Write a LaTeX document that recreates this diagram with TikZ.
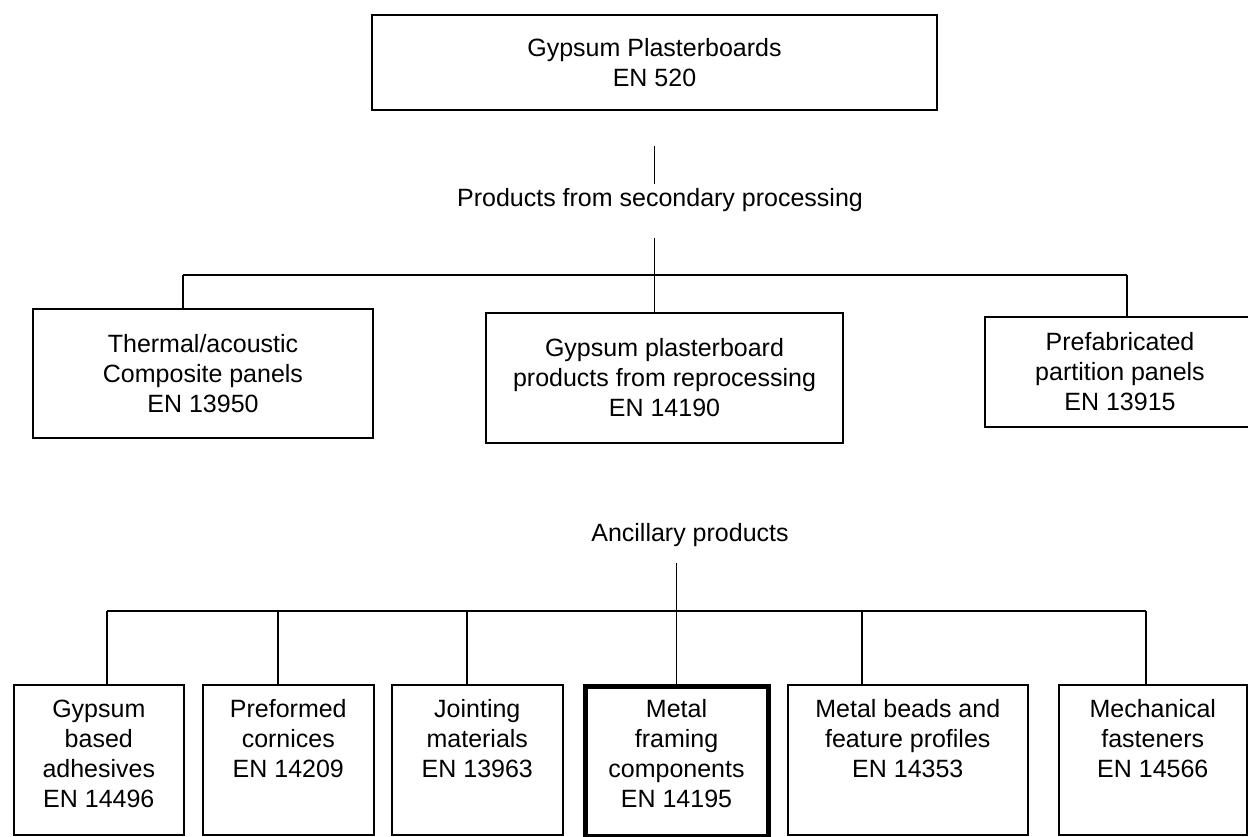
\documentclass[tikz,border=0pt]{standalone}
\usepackage{fontspec}
\setmainfont{Liberation Sans}
\usetikzlibrary{calc}

\begin{document}
\begin{tikzpicture}[x = 0.5pt, y = -0.5pt, line width = 0.8pt]
\tikzstyle{txt} = [font = \fontsize{12.5pt}{15pt}\selectfont, align = center]
\tikzstyle{panel} = [txt, draw, inner sep = 0pt]
\tikzstyle{lowbox} = [draw, anchor = north west, minimum height = 75pt, inner sep = 0pt]
\tikzset{lowtext/.style={txt, anchor = north, inner sep = 0pt, yshift = -7.5pt}}
\useasboundingbox (0,0) rectangle (1248,836);

\node [panel, minimum width = 282.5pt, minimum height = 47.5pt] (plaster) at (654.5,62.5) {Gypsum Plasterboards\\EN 520};
\node [txt, inner sep = 2pt] (second) at (660,200) {Products from secondary processing};
\node [panel, minimum width = 170pt, minimum height = 64.5pt] (thermal) at (203,373.5) {Thermal/acoustic\\Composite panels\\EN 13950};
\node [panel, minimum width = 178.5pt, minimum height = 65pt] (reproc) at (664.5,378) {Gypsum plasterboard\\products from reprocessing\\EN 14190};
\node [panel, minimum width = 135pt, minimum height = 55pt] (prefab) at (1120,372) {Prefabricated\\partition panels\\EN 13915};

\coordinate (busL) at (183,275);
\coordinate (busR) at (1127,275);
\draw ($(plaster.south)+(0,35)$) -- (plaster.south |- second.north);
\draw ($(plaster.south |- second.south)+(0,22)$) -- (plaster.south |- reproc.north);
\draw (busL) -- (busR);
\draw (busL) -- (busL |- thermal.north);
\draw (busR) -- (busR |- prefab.north);

% ancillary products
\node [txt, inner sep = 2pt] (ancil) at (690,535) {Ancillary products};
\node [lowbox, minimum width = 85pt] (adhes) at (13,684) {};
\node [lowbox, minimum width = 85.5pt] (cornice) at (202,684) {};
\node [lowbox, minimum width = 85.5pt] (joint) at (391,684) {};
\node [lowbox, minimum width = 91.5pt, line width = 2.5pt] (framing) at (582.5,684) {};
\node [lowbox, minimum width = 120pt] (beads) at (787,684) {};
\node [lowbox, minimum width = 94pt] (fasten) at (1058,684) {};
\node [lowtext] (adhes-t) at (adhes.north) {Gypsum\\based\\adhesives\\EN 14496};
\node [lowtext] (cornice-t) at (cornice.north) {Preformed\\cornices\\EN 14209};
\node [lowtext] (joint-t) at (joint.north) {Jointing\\materials\\EN 13963};
\node [lowtext] (framing-t) at (framing.north) {Metal\\framing\\components\\EN 14195};
\node [lowtext] (beads-t) at (beads.north) {Metal beads and\\feature profiles\\EN 14353};
\node [lowtext] (fasten-t) at (fasten.north) {Mechanical\\fasteners\\EN 14566};

\coordinate (busA) at (107,611);
\coordinate (busF) at (1146,611);
\draw ($(framing.north |- ancil.south)+(0,12)$) -- (framing.north);
\draw (busA) -- (busF);
\foreach \b/\x in {adhes/107, cornice/278, joint/467, beads/862, fasten/1146}
  \draw (busA -| \x,0) -- (\b.north -| \x,0);
\end{tikzpicture}
\end{document}
